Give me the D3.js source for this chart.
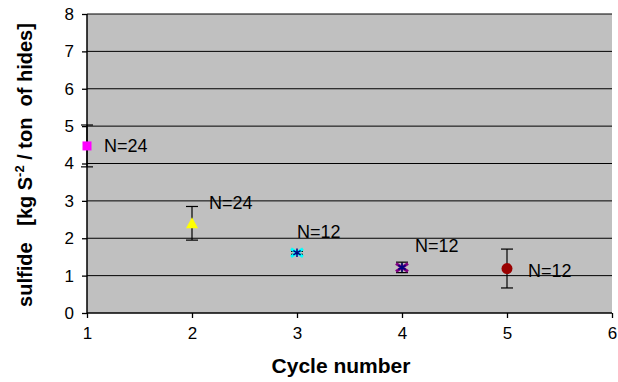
<!DOCTYPE html>
<html>
<head>
<meta charset="utf-8">
<script src="https://cdn.jsdelivr.net/npm/d3@7"></script>
<style>
  body { margin: 0; background: #fff; }
  svg { font-family: Arial, "Liberation Sans", sans-serif; }
</style>
</head>
<body>
<div id="chart"></div>
<script>
// Chart data
const cycles = [1, 2, 3, 4, 5];
const means = [4.47, 2.4, 1.61, 1.22, 1.19];
const errs = [0.56, 0.45, 0.04, 0.14, 0.52];
const labels = ['N=24', 'N=24', 'N=12', 'N=12', 'N=12'];
const labelDx = [17, 17, 0, 13, 21];
const labelDy = [0, -21, -21, -22, 2];
const xTicks = [1, 2, 3, 4, 5, 6];
const yTicks = [0, 1, 2, 3, 4, 5, 6, 7, 8];

const width = 618;
const height = 382;
const margin = { top: 14, right: 6, bottom: 69, left: 87 };

const svg = d3.select('#chart')
    .append('svg')
    .attr('width', width)
    .attr('height', height);

const xScale = d3.scaleLinear()
    .domain([1, 6])
    .range([margin.left, width - margin.right]);

const yScale = d3.scaleLinear()
    .domain([0, 8])
    .range([height - margin.bottom, margin.top]);

// Plot background
svg.append('rect')
    .attr('x', xScale(1))
    .attr('y', yScale(8))
    .attr('width', xScale(6) - xScale(1))
    .attr('height', yScale(0) - yScale(8))
    .attr('fill', '#c0c0c0');

// Gridlines
svg.append('g')
    .selectAll('line')
    .data(yTicks.slice(1))
    .join('line')
    .attr('x1', xScale(1))
    .attr('x2', xScale(6))
    .attr('y1', (d) => yScale(d))
    .attr('y2', (d) => yScale(d))
    .attr('stroke', '#000')
    .attr('stroke-width', 1);

// Axes
const xAxis = d3.axisBottom(xScale).tickValues(xTicks).tickFormat(d3.format('d'))
    .tickSize(5).tickPadding(9);
const yAxis = d3.axisLeft(yScale).tickValues(yTicks).tickFormat(d3.format('d'))
    .tickSize(5).tickPadding(8);

const gx = svg.append('g')
    .attr('transform', `translate(0, ${yScale(0)})`)
    .call(xAxis);
const gy = svg.append('g')
    .attr('transform', `translate(${xScale(1)}, 0)`)
    .call(yAxis);

[gx, gy].forEach((g) => {
    g.select('.domain').attr('stroke', '#000').attr('stroke-width', 1.5);
    g.selectAll('.tick line').attr('stroke', '#000').attr('stroke-width', 1.3);
    g.selectAll('.tick text')
        .attr('fill', '#000')
        .style('font-size', '17px')
        .style('font-family', 'Arial, "Liberation Sans", sans-serif');
});
gx.select('.domain').attr('d', `M${xScale(1)},0H${xScale(6)}`);
gy.select('.domain').attr('d', `M0,${yScale(0)}V${yScale(8)}`);

// Error bars
const eb = svg.append('g')
    .selectAll('g')
    .data(cycles)
    .join('g')
    .attr('stroke', '#000')
    .attr('stroke-width', 1.2);

eb.append('line')
    .attr('x1', (d) => xScale(d))
    .attr('x2', (d) => xScale(d))
    .attr('y1', (d, i) => yScale(means[i] + errs[i]))
    .attr('y2', (d, i) => yScale(means[i] - errs[i]));
eb.append('line')
    .attr('x1', (d) => xScale(d) - 6)
    .attr('x2', (d) => xScale(d) + 6)
    .attr('y1', (d, i) => yScale(means[i] + errs[i]))
    .attr('y2', (d, i) => yScale(means[i] + errs[i]));
eb.append('line')
    .attr('x1', (d) => xScale(d) - 6)
    .attr('x2', (d) => xScale(d) + 6)
    .attr('y1', (d, i) => yScale(means[i] - errs[i]))
    .attr('y2', (d, i) => yScale(means[i] - errs[i]));

// Markers
const markers = svg.append('g');
const px = (i) => xScale(cycles[i]);
const py = (i) => yScale(means[i]);

// 1: magenta square
markers.append('rect')
    .attr('x', px(0) - 4.5).attr('y', py(0) - 4.5)
    .attr('width', 9).attr('height', 9)
    .attr('fill', '#ff00ff');
// 2: yellow triangle
markers.append('path')
    .attr('d', `M${px(1)},${py(1) - 6}L${px(1) + 6},${py(1) + 5}L${px(1) - 6},${py(1) + 5}Z`)
    .attr('fill', '#ffff00');
// 3: cyan x with navy star
markers.append('path')
    .attr('d', `M${px(2) - 6},${py(2) - 4}L${px(2) + 6},${py(2) + 4}M${px(2) + 6},${py(2) - 4}L${px(2) - 6},${py(2) + 4}`)
    .attr('stroke', '#00ffff').attr('stroke-width', 3);
markers.append('path')
    .attr('d', d3.symbol(d3.symbolAsterisk, 50)())
    .attr('transform', `translate(${px(2)},${py(2)})`)
    .attr('stroke', '#000080').attr('stroke-width', 1.5);
// 4: purple star
markers.append('path')
    .attr('d', `M${px(3) - 6},${py(3) - 4}L${px(3) + 6},${py(3) + 4}M${px(3) + 6},${py(3) - 4}L${px(3) - 6},${py(3) + 4}`)
    .attr('stroke', '#800080').attr('stroke-width', 3);
markers.append('path')
    .attr('d', d3.symbol(d3.symbolAsterisk, 50)())
    .attr('transform', `translate(${px(3)},${py(3)})`)
    .attr('stroke', '#000080').attr('stroke-width', 1.5);
// 5: dark red circle
markers.append('circle')
    .attr('cx', px(4)).attr('cy', py(4)).attr('r', 5.5)
    .attr('fill', '#990000');

// Labels
svg.append('g')
    .selectAll('text')
    .data(labels)
    .join('text')
    .attr('x', (d, i) => px(i) + labelDx[i])
    .attr('y', (d, i) => py(i) + labelDy[i])
    .attr('dy', '0.35em')
    .style('font-size', '18px')
    .attr('fill', '#000')
    .text((d) => d);

// Axis titles
svg.append('text')
    .attr('x', 341)
    .attr('y', 373)
    .attr('text-anchor', 'middle')
    .style('font-size', '21px')
    .style('font-weight', 'bold')
    .text('Cycle number');

const yt = svg.append('text')
    .attr('transform', `translate(32, 165) rotate(-90)`)
    .attr('text-anchor', 'middle')
    .style('font-size', '20px')
    .style('font-weight', 'bold')
    .attr('xml:space', 'preserve');
yt.append('tspan').text('sulfide   [kg S');
yt.append('tspan').attr('dy', -8).style('font-size', '13px').text('-2');
yt.append('tspan').attr('dy', 8).text(' / ton  of hides]');
</script>
</body>
</html>
